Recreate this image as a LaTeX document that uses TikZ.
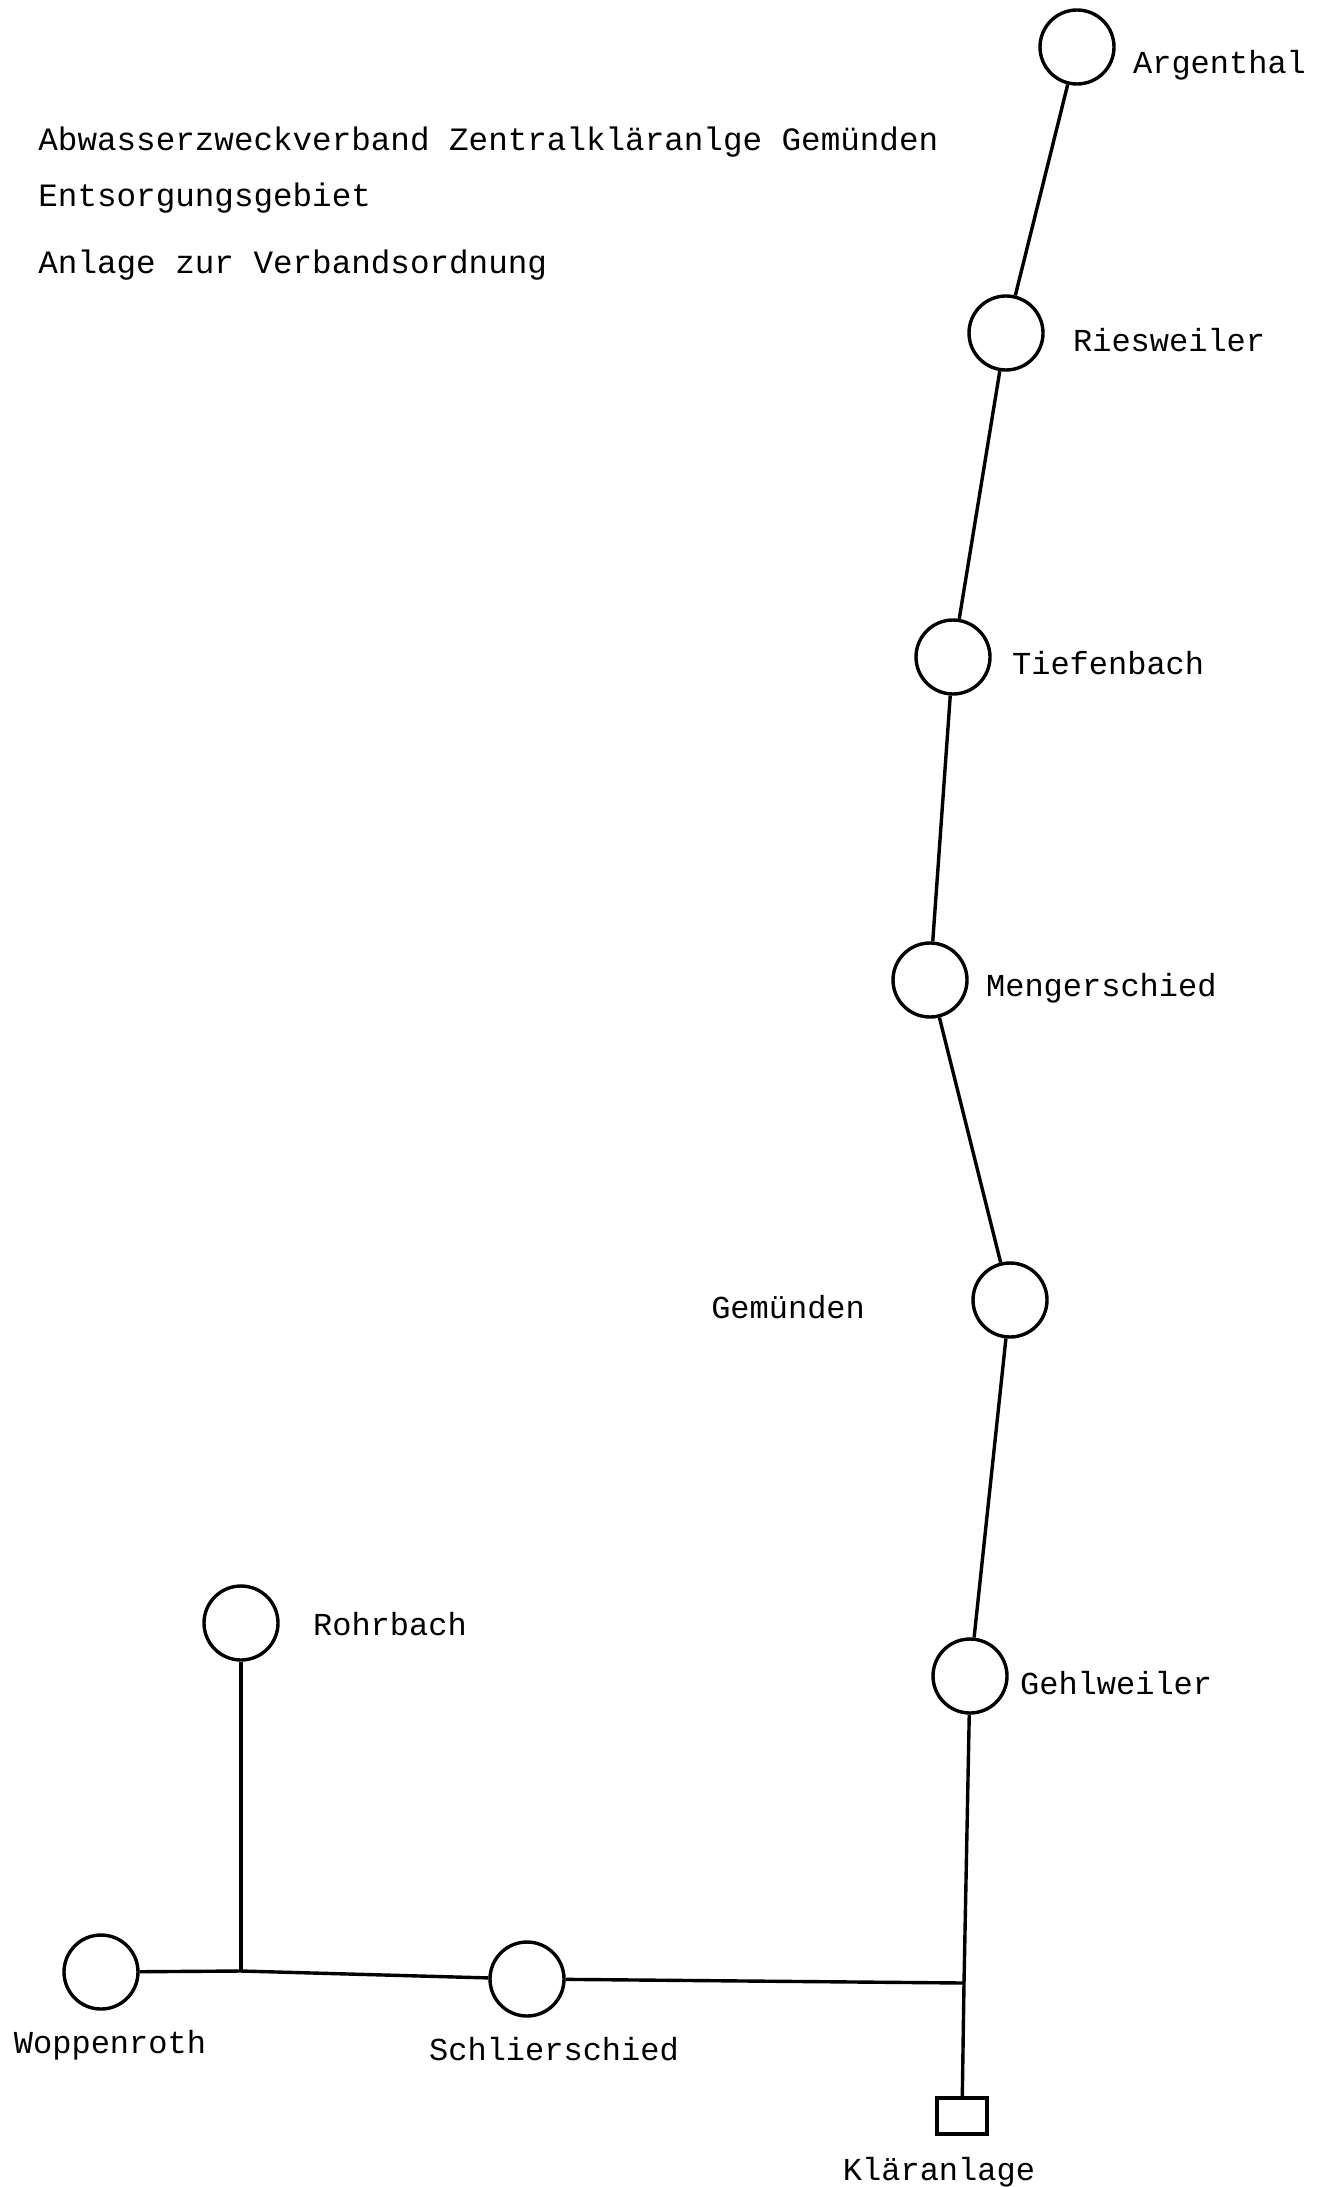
\documentclass[tikz,border=0pt]{standalone}
\usepackage{fontspec}
\newfontfamily\schreibmaschine{Liberation Mono}
\usetikzlibrary{positioning}

\begin{document}
\begin{tikzpicture}[x=0.5pt,y=-0.5pt]
  \tikzset{node distance=10pt,
           village/.style={circle,draw,line width=1.7pt,minimum size=37pt,inner sep=0pt},
           plant/.style={rectangle,draw,line width=1.6pt,minimum width=25pt,minimum height=18pt,inner sep=0pt},
           placename/.style={inner sep=0pt,text height=0.6em,text depth=0.15em,
                             font=\schreibmaschine\fontsize{16}{19}\selectfont},
           heading/.style={placename,anchor=west,font=\schreibmaschine\fontsize{16.3}{19}\selectfont},
           pipe/.style={line width=1.7pt}}
  \useasboundingbox (0,0) rectangle (1325,2187);

  % heading
  \node[heading] (title) at (38,146) {Abwasserzweckverband Zentralkläranlge Gemünden};
  \node[heading] (gebiet) at (38,202) {Entsorgungsgebiet};
  \node[heading] (anlage) at (38,269) {Anlage zur Verbandsordnung};

  % villages
  \node[village] (arg) at (1077,47) {};
  \node[village] (ries) at (1006,333) {};
  \node[village] (tief) at (953,657) {};
  \node[village] (meng) at (930,980) {};
  \node[village] (gem) at (1010,1300) {};
  \node[village] (gehl) at (970,1676) {};
  \node[village] (rohr) at (241,1623) {};
  \node[village] (wopp) at (101,1972) {};
  \node[village] (schl) at (527,1979) {};
  \node[plant] (klaer) at (962,2116) {};
  \coordinate (jW) at (241,1971);
  \coordinate (jK) at (964,1983);

  % names
  \node[placename,right=8.5pt of arg,yshift=-11pt] (argname) {Argenthal};
  \node[placename,right=14pt of ries,yshift=-7pt] (riesname) {Riesweiler};
  \node[placename,right=10pt of tief,yshift=-6.5pt] (tiefname) {Tiefenbach};
  \node[placename,right=8.5pt of meng,yshift=-6pt] (mengname) {Mengerschied};
  \node[placename,left=53pt of gem,yshift=-7pt] (gemname) {Gemünden};
  \node[placename,right=5.5pt of gehl,yshift=-7pt] (gehlname) {Gehlweiler};
  \node[placename,right=16.5pt of rohr,yshift=-4pt] (rohrname) {Rohrbach};
  \node[placename,below=15pt of wopp,xshift=4.5pt] (woppname) {Woppenroth};
  \node[placename,below=15pt of schl,xshift=13.5pt] (schlname) {Schlierschied};
  \node[placename,below=16pt of klaer,xshift=-11.5pt] (klaername) {Kläranlage};

  % sewers
  \draw[pipe] (arg) -- (ries);
  \draw[pipe] (ries) -- (tief);
  \draw[pipe] (tief) -- (meng);
  \draw[pipe] (meng) -- (gem);
  \draw[pipe] (gem) -- (gehl);
  \draw[pipe] (gehl) -- (jK) -- (klaer);
  \draw[pipe] (rohr) -- (jW);
  \draw[pipe] (wopp) -- (jW) -- (schl);
  \draw[pipe] (schl) -- (jK);
\end{tikzpicture}
\end{document}
